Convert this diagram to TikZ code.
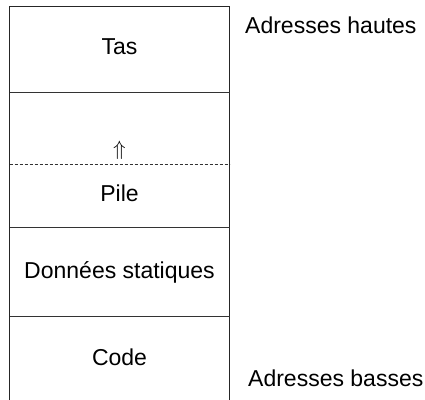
\documentclass[tikz,border=0pt]{standalone}
\usepackage{fontspec}
\setmainfont{Liberation Sans}
\begin{document}
\begin{tikzpicture}[x=1pt,y=-1pt,
  wall/.style={line width=1pt, draw=black!85},
  sep/.style={line width=0.8pt, draw=black!80},
  lbl/.style={inner sep=0pt, anchor=base, font=\fontsize{23}{27}\selectfont},
  side/.style={inner sep=0pt, anchor=base west, font=\fontsize{23}{27}\selectfont}]
  \useasboundingbox (0,0) rectangle (425,399);
  \begin{scope}
    \clip (0,0) rectangle (425,399);
    % outer frame of the memory column
    \coordinate (tl) at (9.5,6);
    \coordinate (tr) at (229.5,6);
    \coordinate (bl) at (9.5,410);
    \coordinate (br) at (229.5,410);
    \draw[wall] (bl) -- (tl) -- (tr) -- (br);
    % segment boundaries
    \coordinate (a1) at (9.5,92);  \coordinate (a2) at (229.5,92);
    \coordinate (b1) at (9.5,164); \coordinate (b2) at (229.5,164);
    \coordinate (c1) at (9.5,227); \coordinate (c2) at (229.5,227);
    \coordinate (d1) at (9.5,316); \coordinate (d2) at (229.5,316);
    \draw[sep] (a1) -- (a2);
    \draw[sep, dash pattern=on 3pt off 2pt] (b1) -- (b2);
    \draw[sep] (c1) -- (c2);
    \draw[sep] (d1) -- (d2);
  \end{scope}
  % segment labels
  \node[lbl] (tas) at (119.5,54.5) {Tas};
  \node[lbl, font=\fontsize{20}{24}\selectfont] (grow) at (119.5,155) {$\Uparrow$};
  \node[lbl] (pile) at (119.5,201.5) {Pile};
  \node[lbl] (data) at (119.5,278) {Données statiques};
  \node[lbl] (code) at (119.5,365.5) {Code};
  % address annotations
  \node[side] (high) at (245,33) {Adresses hautes};
  \node[side] (low) at (248,386.5) {Adresses basses};
\end{tikzpicture}
\end{document}
